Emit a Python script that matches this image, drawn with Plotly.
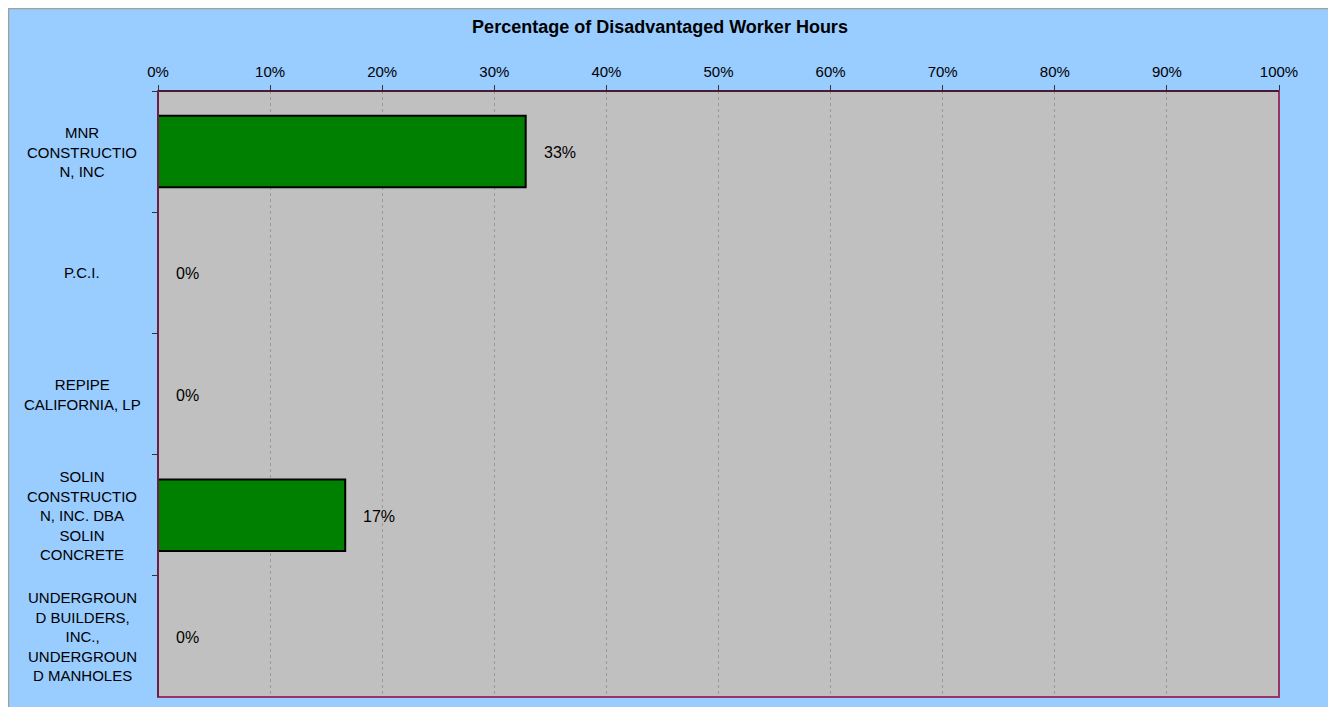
import plotly.graph_objects as go

categories = ["MNR CONSTRUCTION, INC", "P.C.I.", "REPIPE CALIFORNIA, LP",
              "SOLIN CONSTRUCTION, INC. DBA SOLIN CONCRETE",
              "UNDERGROUND BUILDERS, INC., UNDERGROUND MANHOLES"]
category_labels = ["MNR<br>CONSTRUCTIO<br>N, INC", "P.C.I.", "REPIPE<br>CALIFORNIA, LP",
                   "SOLIN<br>CONSTRUCTIO<br>N, INC. DBA<br>SOLIN<br>CONCRETE",
                   "UNDERGROUN<br>D BUILDERS,<br>INC.,<br>UNDERGROUN<br>D MANHOLES"]
values = [0.328, 0.0, 0.0, 0.167, 0.0]
value_labels = ["33%", "0%", "0%", "17%", "0%"]
tick_vals = [i / 10 for i in range(11)]
tick_text = [f"{i*10}%" for i in range(11)]

# page has an 8px body margin; compensate so the plot area lands where the reference has it
OFF = 8
W, H = 1336, 707
L, T = 158 - OFF, 91 - OFF
R = W - (1279 - OFF)
B = H - (697 - OFF)
pw, ph = W - L - R, H - T - B

fig = go.Figure()
fig.add_trace(go.Bar(
    y=categories, x=values, orientation="h",
    marker=dict(color="#008000", line=dict(color="#000000", width=2)),
    width=0.59, hoverinfo="skip",
))

font = "Liberation Sans, Arial, sans-serif"
annotations = []
for c, v, t in zip(categories, values, value_labels):
    annotations.append(dict(x=v, y=c, xref="x", yref="y", text=t, showarrow=False,
                            xanchor="left", yanchor="middle", xshift=16, yshift=-1,
                            font=dict(family=font, size=16, color="#000000")))
for c, t in zip(categories, category_labels):
    annotations.append(dict(x=-76 / pw, y=c, xref="paper", yref="y", text=t, showarrow=False,
                            xanchor="center", yanchor="middle", align="center",
                            font=dict(family=font, size=15, color="#000000")))

shapes = [
    # outer chart border
    dict(type="rect", xref="paper", yref="paper", x0=-(L - 0.5) / pw, x1=(W - L + 20) / pw,
         y0=-(B + 20) / ph, y1=1 + (T - 0.5) / ph, line=dict(color="#A0A0A0", width=1.5),
         layer="below"),
    # plot frame
    dict(type="rect", xref="paper", yref="paper", x0=0, x1=1, y0=0, y1=1,
         line=dict(color="#993366", width=2), layer="above"),
    dict(type="line", xref="paper", yref="paper", x0=0, x1=1, y0=1, y1=1,
         line=dict(color="#4A1A35", width=2), layer="above"),
    dict(type="line", xref="paper", yref="paper", x0=0, x1=0, y0=0, y1=1,
         line=dict(color="#6A2045", width=2), layer="above"),
]

fig.update_layout(
    width=W, height=H,
    margin=dict(l=L, r=R, t=T, b=B),
    paper_bgcolor="#99CCFF", plot_bgcolor="#C0C0C0",
    showlegend=False, bargap=0.41,
    title=dict(text="<b>Percentage of Disadvantaged Worker Hours</b>", x=(660 - OFF) / W,
               xanchor="center", y=1 - (27 - OFF) / H, yanchor="middle",
               font=dict(family=font, size=18, color="#000000")),
    font=dict(family=font, size=15, color="#000000"),
    xaxis=dict(side="top", range=[0, 1], tickvals=tick_vals, ticktext=tick_text,
               showgrid=True, gridcolor="#9A9A9A", griddash="dot", gridwidth=1,
               ticks="outside", ticklen=5, tickcolor="#333333", tickwidth=1,
               ticklabelstandoff=2,
               showline=False, zeroline=False, fixedrange=True,
               tickfont=dict(family=font, size=15)),
    yaxis=dict(categoryorder="array", categoryarray=categories, autorange="reversed",
               showticklabels=False, ticks="outside", tickson="boundaries", ticklen=5,
               tickcolor="#333333", showgrid=False, zeroline=False, showline=False,
               fixedrange=True),
    annotations=annotations, shapes=shapes,
)

fig.write_html("out.html")
